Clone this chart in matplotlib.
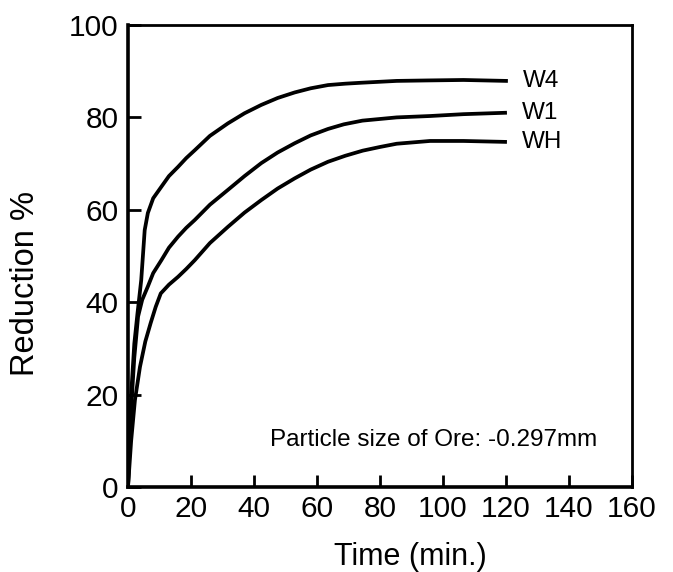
import matplotlib
matplotlib.use("Agg")
import matplotlib.pyplot as plt

plt.rcParams['font.family'] = ['Liberation Sans', 'DejaVu Sans']

# Data
w4_t = [0, 1, 2, 3, 4.2, 5.3, 6.3, 8, 10.6, 13, 15.9, 18.5, 21.2, 26, 31.7, 37, 42.3, 47.5, 52.9, 58, 63.5, 69, 74, 85.3, 95, 106.5, 120]
w4_r = [0, 20, 31, 37.5, 44.8, 55.6, 59.3, 62.5, 65.0, 67.3, 69.3, 71.2, 72.9, 76.0, 78.7, 80.9, 82.7, 84.2, 85.4, 86.3, 87.0, 87.3, 87.5, 87.9, 88.0, 88.1, 87.9]

w1_t = [0, 1, 2, 3.2, 4.5, 6.3, 8, 10.6, 13, 15.9, 18.5, 21.2, 26, 31.7, 37, 42.3, 47.5, 52.9, 58, 63.5, 68.5, 74.4, 85.3, 95.9, 106.5, 119.7]
w1_r = [0, 17, 28, 36.9, 40.5, 43.4, 46.3, 49.1, 51.8, 54.2, 56.1, 57.8, 61.1, 64.3, 67.3, 70.1, 72.4, 74.4, 76.1, 77.5, 78.5, 79.3, 80.0, 80.3, 80.7, 81.0]

wh_t = [0, 1, 2.2, 3.8, 5.5, 7.2, 8.8, 10.4, 13, 15.9, 18.5, 21.2, 26, 31.7, 37, 42.3, 47.5, 52.9, 58, 63.5, 69, 74.5, 80, 85.3, 95.9, 106.5, 119.7]
wh_r = [0, 10, 18.8, 26, 31.5, 35.5, 39, 41.9, 43.8, 45.5, 47.2, 49.1, 52.8, 56.3, 59.4, 62.1, 64.6, 66.8, 68.7, 70.4, 71.7, 72.8, 73.6, 74.3, 74.9, 74.9, 74.7]

series_names = ["W4", "W1", "WH"]
x_ticks = [0, 20, 40, 60, 80, 100, 120, 140, 160]
y_ticks = [0, 20, 40, 60, 80, 100]

fig = plt.figure(figsize=(6.73, 5.72), dpi=100)
ax = fig.add_axes([128/673, 1-487/572, (632-128)/673, (487-25)/572])

for t, r, name in zip([w4_t, w1_t, wh_t], [w4_r, w1_r, wh_r], series_names):
    ax.plot(t, r, color='black', lw=2.7, solid_joinstyle='round')
    ax.text(t[-1] + 5.5, r[-1], name, fontsize=17.5, va='center', ha='left')

ax.set_xlim(0, 160)
ax.set_ylim(0, 100)
ax.set_xticks(x_ticks)
ax.set_yticks(y_ticks)
ax.tick_params(direction='in', length=9, width=2, labelsize=21.5)
ax.tick_params(axis='y', pad=7)
ax.tick_params(axis='x', pad=6)
for s in ['left', 'bottom']:
    ax.spines[s].set_linewidth(2.6)
for s in ['top', 'right']:
    ax.spines[s].set_linewidth(2.0)

ax.set_xlabel("Time (min.)", fontsize=22)
ax.set_ylabel("Reduction %", fontsize=23.5)
ax.xaxis.set_label_coords(0.56, -0.119)
ax.yaxis.set_label_coords(-0.173, 0.44)

ax.text(45, 10.2, "Particle size of Ore: -0.297mm", fontsize=17.5, va='center', ha='left')

fig.savefig("out.png", dpi=100)
